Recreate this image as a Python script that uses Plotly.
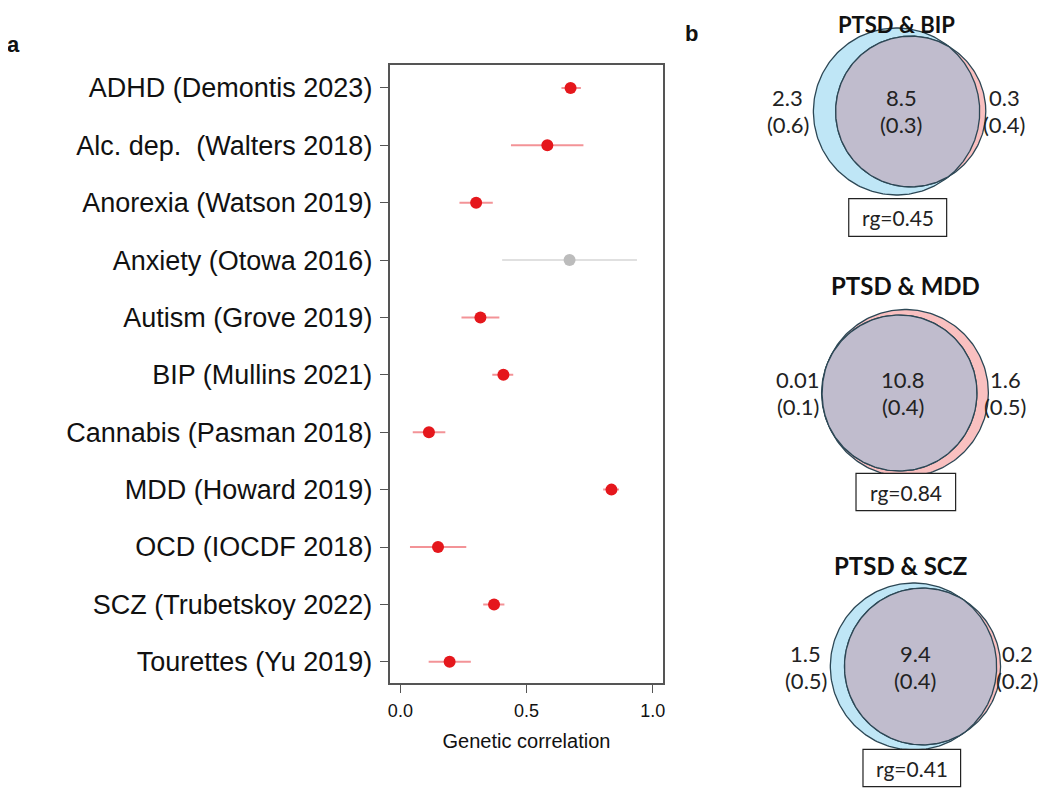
import numpy as np
import plotly.graph_objects as go

# ---------------- Data ----------------
traits = ["ADHD (Demontis 2023)", "Alc. dep.\u00a0 (Walters 2018)", "Anorexia (Watson 2019)",
          "Anxiety (Otowa 2016)", "Autism (Grove 2019)", "BIP (Mullins 2021)",
          "Cannabis (Pasman 2018)", "MDD (Howard 2019)", "OCD (IOCDF 2018)",
          "SCZ (Trubetskoy 2022)", "Tourettes (Yu 2019)"]
rg = [0.674, 0.582, 0.300, 0.670, 0.317, 0.408, 0.113, 0.836, 0.149, 0.371, 0.195]
ci_lo = [0.638, 0.438, 0.234, 0.403, 0.242, 0.364, 0.049, 0.803, 0.038, 0.328, 0.112]
ci_hi = [0.715, 0.725, 0.366, 0.937, 0.392, 0.447, 0.178, 0.866, 0.261, 0.412, 0.279]
significant = [True, True, True, False, True, True, True, True, True, True, True]
x_ticks = [0.0, 0.5, 1.0]
x_ticklabels = ["0.0", "0.5", "1.0"]

# Venn (MiXeR) data: PTSD-specific, shared, other-specific (with SEs), rg
venn_titles = ["PTSD & BIP", "PTSD & MDD", "PTSD & SCZ"]
venn_ptsd_only = [2.3, 0.01, 1.5]
venn_ptsd_only_se = [0.6, 0.1, 0.5]
venn_shared = [8.5, 10.8, 9.4]
venn_shared_se = [0.3, 0.4, 0.4]
venn_other_only = [0.3, 1.6, 0.2]
venn_other_only_se = [0.4, 0.5, 0.2]
venn_rg = [0.45, 0.84, 0.41]

# ---------------- Styles / layout constants ----------------
OFF = 8                      # page body margin
FW, FH = 1034, 780           # figure size
RED = "#e5171c"
RED_LINE = "rgba(240,120,125,0.8)"
GREY = "#bcbcbc"
GREY_LINE = "#e0e0e0"
BLUE_FILL = "#bfe6f6"
PINK_FILL = "#f9c0c0"
OVERLAP_FILL = "#c0bccd"
OUTLINE = "#2c4755"
AX_COL = "#555555"

# Venn layout in page pixels (first panel nudged down so its title fits the page)
venn_shift = [7, 0, 0]
venn_big_center = [(898, 104.5), (906.7, 393.0), (915, 666.5)]
venn_R = 83.5
venn_title_y = [8.5, 285, 565]
venn_title_anchor = ["top", "middle", "middle"]
venn_title_size = [22, 24, 24]
venn_text_y = [90, 379, 653]
venn_center_text_x = [902.7, 904, 916.7]
venn_left_text_x = [789, 799, 806.7]
venn_right_text_x = [1006, 1007, 1019]
venn_title_x = [898, 906.7, 901.7]
venn_box = [(850, 191.7, 948.3, 229.3), (857.3, 473.3, 957.3, 510.7), (864.3, 749.3, 962.3, 786.7)]

# plot box in page pixels
BOX_L, BOX_R, BOX_T, BOX_B = 389, 664, 65, 683

fig = go.Figure()

# ---------------- Forest plot ----------------
y_idx = list(range(len(traits)))
for sig_flag, mcol, lcol in [(True, RED, RED_LINE), (False, GREY, GREY_LINE)]:
    ys = [i for i in y_idx if significant[i] == sig_flag]
    xs = [rg[i] for i in ys]
    plus = [ci_hi[i] - rg[i] for i in ys]
    minus = [rg[i] - ci_lo[i] for i in ys]
    fig.add_trace(go.Scatter(
        x=xs, y=ys, mode="markers",
        marker=dict(size=12, color=mcol, line=dict(width=0)),
        error_x=dict(type="data", symmetric=False, array=plus, arrayminus=minus,
                     width=0, thickness=2, color=lcol),
        showlegend=False, hoverinfo="x+y", xaxis="x", yaxis="y"))

# ---------------- Venn diagrams ----------------
def lens_area(d, r1, r2):
    if d >= r1 + r2:
        return 0.0
    if d <= abs(r1 - r2):
        return np.pi * min(r1, r2) ** 2
    a1 = r1 ** 2 * np.arccos((d ** 2 + r1 ** 2 - r2 ** 2) / (2 * d * r1))
    a2 = r2 ** 2 * np.arccos((d ** 2 + r2 ** 2 - r1 ** 2) / (2 * d * r2))
    a3 = 0.5 * np.sqrt((-d + r1 + r2) * (d + r1 - r2) * (d - r1 + r2) * (d + r1 + r2))
    return a1 + a2 - a3


def solve_d(r1, r2, target):
    lo, hi = abs(r1 - r2) + 1e-6, r1 + r2 - 1e-6
    for _ in range(80):
        mid = 0.5 * (lo + hi)
        if lens_area(mid, r1, r2) > target:
            lo = mid
        else:
            hi = mid
    return 0.5 * (lo + hi)


def circle_xy(cx, cy, r, n=240):
    t = np.linspace(0, 2 * np.pi, n)
    return cx + r * np.cos(t), cy + r * np.sin(t)


vfont = dict(family="Lato, Liberation Sans, sans-serif", size=22, color="#222222")
bfont = dict(family="Lato, Liberation Sans, sans-serif", size=21, color="#222222")
for k in range(3):
    s = venn_shift[k]
    tot_a = venn_ptsd_only[k] + venn_shared[k]   # PTSD (left)
    tot_b = venn_other_only[k] + venn_shared[k]  # other trait (right)
    big = max(tot_a, tot_b)
    ra = venn_R * np.sqrt(tot_a / big)
    rb = venn_R * np.sqrt(tot_b / big)
    scale = np.pi * venn_R ** 2 / big
    d = solve_d(ra, rb, venn_shared[k] * scale)
    bx, by = venn_big_center[k]
    by += s
    if tot_a >= tot_b:
        ax_, ay_ = bx, by
        cbx, cby = bx + d, by
    else:
        cbx, cby = bx, by
        ax_, ay_ = bx - d, by

    order = [(ax_, ay_, ra, BLUE_FILL), (cbx, cby, rb, PINK_FILL)]
    order.sort(key=lambda o: -o[2])
    for cx, cy, r, col in order:
        xs, ys = circle_xy(cx, cy, r)
        fig.add_trace(go.Scatter(x=xs, y=ys, mode="lines", fill="toself", fillcolor=col,
                                 line=dict(color=OUTLINE, width=1.3),
                                 showlegend=False, hoverinfo="skip", xaxis="x2", yaxis="y2"))
    a = (d ** 2 + ra ** 2 - rb ** 2) / (2 * d)
    h = np.sqrt(max(ra ** 2 - a ** 2, 0))
    th1 = np.arctan2(h, a)
    phi = np.arctan2(h, a - d)
    t1 = np.linspace(-th1, th1, 200)
    t2 = np.linspace(phi, 2 * np.pi - phi, 300)
    lx = np.concatenate([ax_ + ra * np.cos(t1), cbx + rb * np.cos(t2)])
    ly = np.concatenate([ay_ + ra * np.sin(t1), cby + rb * np.sin(t2)])
    lx = np.append(lx, lx[0]); ly = np.append(ly, ly[0])
    fig.add_trace(go.Scatter(x=lx, y=ly, mode="lines", fill="toself", fillcolor=OVERLAP_FILL,
                             line=dict(color=OUTLINE, width=1.3),
                             showlegend=False, hoverinfo="skip", xaxis="x2", yaxis="y2"))

    fig.add_annotation(x=venn_title_x[k], y=venn_title_y[k], xref="x2", yref="y2",
                       yanchor=venn_title_anchor[k],
                       text="<b>" + venn_titles[k].replace("&", "&amp;") + "</b>", showarrow=False,
                       font=dict(family="Lato, Liberation Sans, sans-serif",
                                 size=venn_title_size[k], color="#111111"))
    for xx, val, se in [(venn_center_text_x[k], venn_shared[k], venn_shared_se[k]),
                        (venn_left_text_x[k], venn_ptsd_only[k], venn_ptsd_only_se[k]),
                        (venn_right_text_x[k], venn_other_only[k], venn_other_only_se[k])]:
        fig.add_annotation(x=xx, y=venn_text_y[k] + s, xref="x2", yref="y2", text=f"{val:g}",
                           showarrow=False, font=vfont)
        fig.add_annotation(x=xx, y=venn_text_y[k] + s + 27, xref="x2", yref="y2", text=f"({se:g})",
                           showarrow=False, font=vfont)
    x0, y0, x1, y1 = venn_box[k]
    fig.add_shape(type="rect", x0=x0, y0=y0 + s, x1=x1, y1=y1 + s, xref="x2", yref="y2",
                  line=dict(color="#222222", width=1.2), fillcolor="white")
    fig.add_annotation(x=(x0 + x1) / 2, y=(y0 + y1) / 2 + s, xref="x2", yref="y2",
                       text=f"rg={venn_rg[k]:.2f}", showarrow=False, font=bfont)

# ---------------- Layout ----------------
arial = "Liberation Sans, Arial, sans-serif"
fig.update_layout(
    width=FW, height=FH, margin=dict(l=0, r=0, t=0, b=0),
    paper_bgcolor="white", plot_bgcolor="rgba(0,0,0,0)",
    xaxis=dict(domain=[(BOX_L - OFF) / FW, (BOX_R - OFF) / FW], range=[-0.043, 1.042], anchor="y",
               tickvals=x_ticks, ticktext=x_ticklabels, ticks="outside", ticklen=8,
               tickcolor=AX_COL, tickwidth=1.3, showline=True, linecolor=AX_COL, linewidth=1.5,
               mirror=True, showgrid=False, zeroline=False, ticklabelstandoff=3,
               tickfont=dict(family=arial, size=18, color="#111111"),
               title=dict(text="Genetic correlation", standoff=14,
                          font=dict(family=arial, size=20, color="#111111"))),
    yaxis=dict(domain=[1 - (BOX_B - OFF) / FH, 1 - (BOX_T - OFF) / FH], range=[10.37, -0.4], anchor="x",
               tickvals=y_idx, ticktext=traits, ticks="outside", ticklen=8,
               tickcolor=AX_COL, tickwidth=1.3, showline=True, linecolor=AX_COL, linewidth=1.5,
               mirror=True, showgrid=False, zeroline=False, ticklabelstandoff=2,
               tickfont=dict(family=arial, size=27, color="#111111")),
    xaxis2=dict(domain=[0, 1], range=[OFF, OFF + FW], anchor="y2", visible=False, fixedrange=True),
    yaxis2=dict(domain=[0, 1], range=[OFF + FH, OFF], anchor="x2", visible=False, fixedrange=True),
)

fig.add_annotation(x=12, y=44, xref="x2", yref="y2", text="<b>a</b>", showarrow=False,
                   font=dict(family=arial, size=22, color="#111111"))
fig.add_annotation(x=692, y=33, xref="x2", yref="y2", text="<b>b</b>", showarrow=False,
                   font=dict(family=arial, size=22, color="#111111"))

fig.write_html("out.html")
